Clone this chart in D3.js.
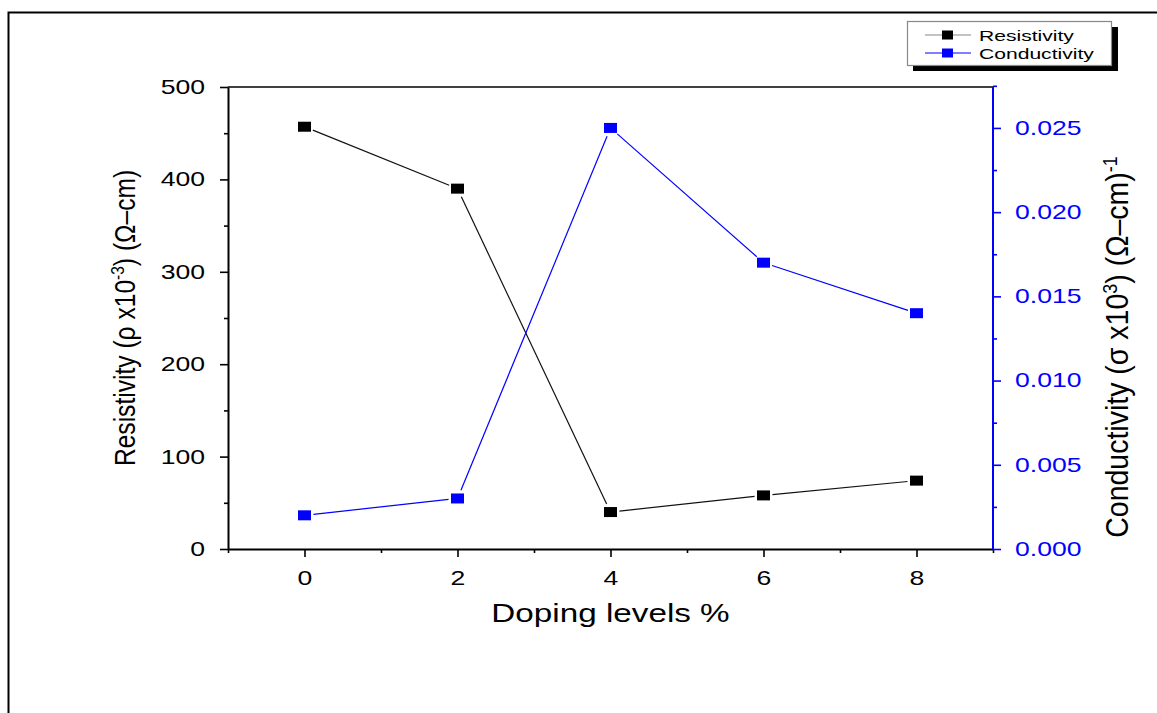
<!DOCTYPE html>
<html>
<head>
<meta charset="utf-8">
<script src="https://cdn.jsdelivr.net/npm/d3@7"></script>
<style>
  html, body { margin: 0; padding: 0; background: #fff; }
  svg { display: block; font-family: "Liberation Sans", Arial, sans-serif; }
</style>
</head>
<body>
<svg id="chart" width="1157" height="713"></svg>
<script>
// Doping level (%) of each sample
const dopingLevels = [0, 2, 4, 6, 8];
// Resistivity, rho x10^-3 (ohm-cm)
const resistivity = [457, 390, 40, 58, 74];
// Conductivity, sigma x10^3 (ohm-cm)^-1
const conductivity = [0.002, 0.003, 0.025, 0.017, 0.014];

const xTicks = [0, 2, 4, 6, 8];
const xMinorTicks = [-1, 1, 3, 5, 7, 9];
const leftTicks = [0, 100, 200, 300, 400, 500];
const leftMinorTicks = [50, 150, 250, 350, 450];
const rightTicks = [0.000, 0.005, 0.010, 0.015, 0.020, 0.025];
const rightMinorTicks = [0.0025, 0.0075, 0.0125, 0.0175, 0.0225, 0.0275];

const svg = d3.select("#chart");
const plot = { left: 228, right: 993, top: 87, bottom: 549 };
const BLUE = "#0000ff";
const WIDE = 1.33; // horizontal stretch of the lettering

const x = d3.scaleLinear().domain([-1, 9]).range([plot.left, plot.right]);
const yL = d3.scaleLinear().domain([0, 500]).range([plot.bottom, plot.top]);
const yR = d3.scaleLinear().domain([0, 0.02743]).range([plot.bottom, plot.top]);

// outer frame (top and left edges)
svg.append("path")
  .attr("d", "M8.5,713 L8.5,12.5 L1157,12.5")
  .attr("fill", "none").attr("stroke", "#000").attr("stroke-width", 2);

// top border of the plot
svg.append("line")
  .attr("x1", plot.left).attr("x2", plot.right)
  .attr("y1", plot.top).attr("y2", plot.top)
  .attr("stroke", "#000").attr("stroke-width", 1.5);

function styleAxis(g, color) {
  g.select(".domain").attr("stroke", color).attr("stroke-width", 2);
  g.selectAll(".tick line").attr("stroke", color).attr("stroke-width", 1.6);
  g.selectAll(".tick text").attr("fill", color).attr("font-size", 20)
    .attr("font-family", "'Liberation Sans', Arial, sans-serif");
}

// bottom axis
const gx = svg.append("g").attr("transform", `translate(0,${plot.bottom})`)
  .call(d3.axisBottom(x).tickValues(xTicks).tickSize(8).tickSizeOuter(0).tickPadding(14)
    .tickFormat(d3.format("d")));
styleAxis(gx, "#000");
gx.selectAll(".tick text").attr("transform", `scale(${WIDE},1)`);
svg.append("g").attr("transform", `translate(0,${plot.bottom})`)
  .call(d3.axisBottom(x).tickValues(xMinorTicks).tickSize(4).tickSizeOuter(0).tickFormat(""))
  .call(g => { g.select(".domain").remove(); g.selectAll("line").attr("stroke", "#000").attr("stroke-width", 1.6); });

// left axis
const gl = svg.append("g").attr("transform", `translate(${plot.left},0)`)
  .call(d3.axisLeft(yL).tickValues(leftTicks).tickSize(8).tickSizeOuter(0).tickPadding(14));
styleAxis(gl, "#000");
gl.selectAll(".tick text").attr("x", 0).attr("transform", `translate(-23,0) scale(${WIDE},1)`);
svg.append("g").attr("transform", `translate(${plot.left},0)`)
  .call(d3.axisLeft(yL).tickValues(leftMinorTicks).tickSize(4).tickSizeOuter(0).tickFormat(""))
  .call(g => { g.select(".domain").remove(); g.selectAll("line").attr("stroke", "#000").attr("stroke-width", 1.6); });

// right axis
const gr = svg.append("g").attr("transform", `translate(${plot.right},0)`)
  .call(d3.axisRight(yR).tickValues(rightTicks).tickSize(8).tickSizeOuter(0).tickPadding(14)
    .tickFormat(d3.format(".3f")));
styleAxis(gr, BLUE);
gr.selectAll(".tick text").attr("x", 0).attr("transform", `translate(22,0) scale(${WIDE},1)`);
gr.select(".domain").attr("d", `M0,${plot.bottom}V${plot.top}`);
svg.append("g").attr("transform", `translate(${plot.right},0)`)
  .call(d3.axisRight(yR).tickValues(rightMinorTicks).tickSize(4).tickSizeOuter(0).tickFormat(""))
  .call(g => { g.select(".domain").remove(); g.selectAll("line").attr("stroke", BLUE).attr("stroke-width", 1.6); });

// series lines, drawn with small gaps around each marker
function drawSeries(values, yScale, lineColor, markerColor) {
  const pts = dopingLevels.map((d, i) => [x(d), yScale(values[i])]);
  const gap = 9;
  const segs = d3.pairs(pts).map(([a, b]) => {
    const dx = b[0] - a[0], dy = b[1] - a[1], len = Math.hypot(dx, dy);
    const ux = dx / len, uy = dy / len;
    return [[a[0] + ux * gap, a[1] + uy * gap], [b[0] - ux * gap, b[1] - uy * gap]];
  });
  svg.append("g").selectAll("line").data(segs).join("line")
    .attr("x1", s => s[0][0]).attr("y1", s => s[0][1])
    .attr("x2", s => s[1][0]).attr("y2", s => s[1][1])
    .attr("stroke", lineColor).attr("stroke-width", 1.2);
  svg.append("g").selectAll("rect").data(pts).join("rect")
    .attr("x", p => p[0] - 6.5).attr("y", p => p[1] - 5)
    .attr("width", 13).attr("height", 10)
    .attr("fill", markerColor);
}
drawSeries(resistivity, yL, "#111", "#000");
drawSeries(conductivity, yR, BLUE, BLUE);

// x axis title
svg.append("text")
  .attr("transform", `translate(${(plot.left + plot.right) / 2},622) scale(${WIDE},1)`)
  .attr("text-anchor", "middle").attr("font-size", 25)
  .text("Doping levels %");

// left axis title
const lt = svg.append("g").attr("transform", `translate(135,318) rotate(-90) scale(1,1.17)`)
  .append("text").attr("text-anchor", "middle").attr("font-size", 24.6).attr("fill", "#000");
lt.append("tspan").text("Resistivity (\u03C1 x10");
lt.append("tspan").attr("dy", -9).attr("font-size", 15.5).text("-3");
lt.append("tspan").attr("dy", 9).text(") (\u03A9\u2013cm)");

// right axis title
const rt = svg.append("g").attr("transform", `translate(1128,347) rotate(-90) scale(1,1.12)`)
  .append("text").attr("text-anchor", "middle").attr("font-size", 28.5).attr("fill", "#000");
rt.append("tspan").text("Conductivity (\u03C3 x10");
rt.append("tspan").attr("dy", -10).attr("font-size", 18).text("3");
rt.append("tspan").attr("dy", 10).text(") (\u03A9\u2013cm)");
rt.append("tspan").attr("dy", -10).attr("font-size", 18).text("-1");

// legend with drop shadow
const legend = svg.append("g");
legend.append("rect").attr("x", 913).attr("y", 27).attr("width", 205).attr("height", 44).attr("fill", "#000");
legend.append("rect").attr("x", 907.5).attr("y", 21.5).attr("width", 204).attr("height", 44)
  .attr("fill", "#fff").attr("stroke", "#888").attr("stroke-width", 1.2);
const legendItems = [
  { name: "Resistivity", line: "#888", marker: "#000", y: 35 },
  { name: "Conductivity", line: BLUE, marker: BLUE, y: 53 }
];
const li = legend.selectAll("g.item").data(legendItems).join("g").attr("class", "item");
li.append("line").attr("x1", 925).attr("x2", 971).attr("y1", d => d.y).attr("y2", d => d.y)
  .attr("stroke", d => d.line).attr("stroke-width", 1.2);
li.append("rect").attr("x", 942).attr("y", d => d.y - 4.5).attr("width", 11).attr("height", 9)
  .attr("fill", d => d.marker);
li.append("text").attr("transform", d => `translate(979,${d.y + 5.5}) scale(1.36,1)`)
  .attr("font-size", 15.5).attr("fill", "#000")
  .text(d => d.name);
</script>
</body>
</html>
